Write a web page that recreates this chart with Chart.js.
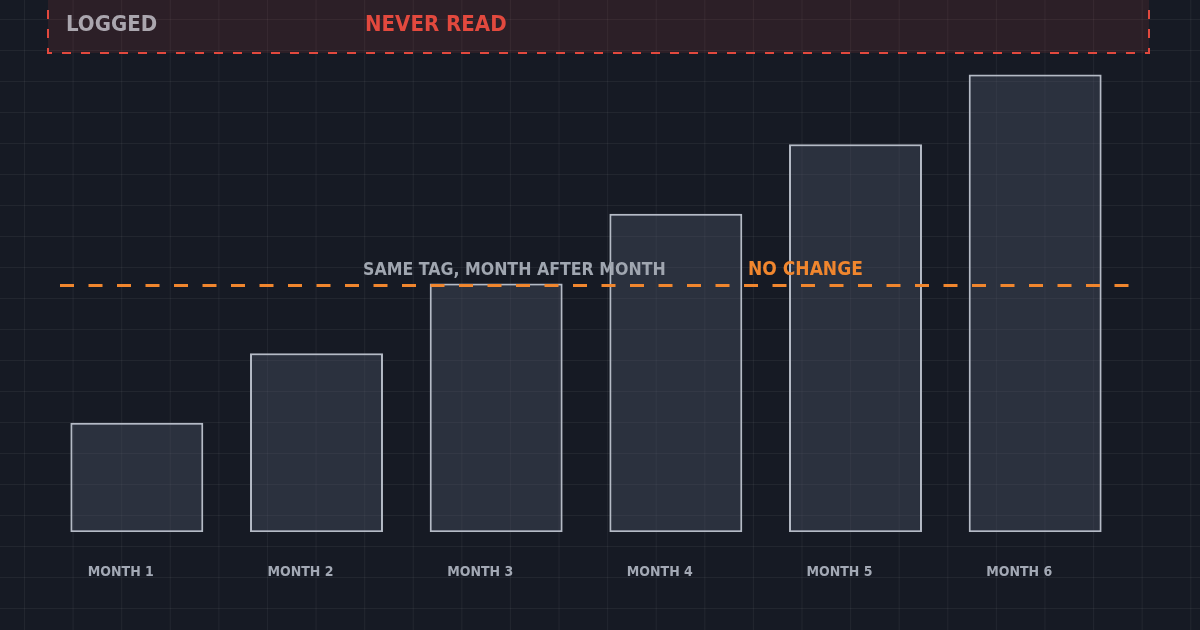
<!DOCTYPE html>
<html>
<head>
<meta charset="utf-8">
<script src="https://cdn.jsdelivr.net/npm/chart.js@4.4.1/dist/chart.umd.min.js"></script>
<style>
html, body {
  margin: 0;
  padding: 0;
  background: #161a24;
}
#wrap {
  width: 1200px;
  height: 630px;
  background-color: #161a24;
  background-image:
    linear-gradient(to right, rgba(255,255,255,0.05) 1px, transparent 1px),
    linear-gradient(to bottom, rgba(255,255,255,0.05) 1px, transparent 1px);
  background-size: 48.6px 31px;
  background-position: 24px 19px;
}
</style>
</head>
<body>
<div id="wrap">
<canvas id="tagChart" width="1200" height="630"></canvas>
</div>
<script>

// ================= DATA =================

const months = ["MONTH 1", "MONTH 2", "MONTH 3", "MONTH 4", "MONTH 5", "MONTH 6"];

const loggedTags = [22, 36, 50, 64, 78, 92];

const neverReadFrom = 96.4;   // everything above this is logged but never read

const sameTagLevel = 49.6;    // the tag value that never changes

const bandLabels = ["LOGGED", "NEVER READ"];

const lineLabels = ["SAME TAG, MONTH AFTER MONTH", "NO CHANGE"];


const FONT = "'DejaVu Sans Condensed', 'DejaVu Sans', sans-serif";


// ================= NOTES PLUGIN =================

const notes = {

  id: "notes",

  beforeDatasetsDraw(chart) {

    const {ctx, chartArea, scales} = chart;
    const y = scales.y;

    const left = chartArea.left + 1;
    const right = chartArea.right + 24;
    const bottom = Math.round(y.getPixelForValue(neverReadFrom));

    ctx.save();

    ctx.fillStyle = "rgba(224,74,63,0.11)";
    ctx.fillRect(left, -10, right - left, bottom + 10);

    ctx.strokeStyle = "#e2493e";
    ctx.lineWidth = 2;
    ctx.setLineDash([9, 10]);
    ctx.strokeRect(left, -10, right - left, bottom + 10);

    ctx.setLineDash([]);
    ctx.font = "bold 22px " + FONT;
    ctx.textBaseline = "alphabetic";

    ctx.fillStyle = "#aaa6ae";
    ctx.fillText(bandLabels[0], left + 18, 31);

    ctx.fillStyle = "#e2493e";
    ctx.fillText(bandLabels[1], 365, 31);

    ctx.restore();

  },

  afterDatasetsDraw(chart) {

    const {ctx, chartArea, scales} = chart;
    const yy = Math.round(scales.y.getPixelForValue(sameTagLevel)) + 0.5;

    ctx.save();

    ctx.strokeStyle = "#f0862e";
    ctx.lineWidth = 3;
    ctx.setLineDash([14, 14.5]);
    ctx.beginPath();
    ctx.moveTo(chartArea.left + 13, yy);
    ctx.lineTo(chartArea.right + 13, yy);
    ctx.stroke();

    ctx.setLineDash([]);

    ctx.font = "bold 17.6px " + FONT;
    ctx.fillStyle = "#a0a6b0";
    ctx.fillText(lineLabels[0], 363, yy - 11);

    ctx.font = "bold 19px " + FONT;
    ctx.fillStyle = "#f0862e";
    ctx.fillText(lineLabels[1], 748, yy - 11);

    ctx.restore();

  }

};


// ================= BAR CHART =================

new Chart(document.getElementById("tagChart"), {

  type: "bar",

  data: {

    labels: months,

    datasets: [{

      data: loggedTags,

      backgroundColor: "rgba(80,86,106,0.38)",

      borderColor: "#b5bbc6",

      borderWidth: 2,

      borderSkipped: false,

      categoryPercentage: 1,

      barPercentage: 0.74

    }]

  },

  options: {

    responsive: false,

    animation: false,

    layout: {
      padding: {left: 47, right: 75, top: 0, bottom: 17}
    },

    plugins: {
      legend: {display: false},
      tooltip: {enabled: false}
    },

    scales: {

      x: {
        grid: {display: false, drawTicks: false},
        border: {display: false},
        ticks: {
          color: "#a3a9b5",
          padding: 32,
          labelOffset: -16,
          font: {family: FONT, size: 14, weight: "bold"}
        }
      },

      y: {
        display: false,
        min: 0,
        max: 107
      }

    }

  },

  plugins: [notes]

});

</script>
</body>
</html>
